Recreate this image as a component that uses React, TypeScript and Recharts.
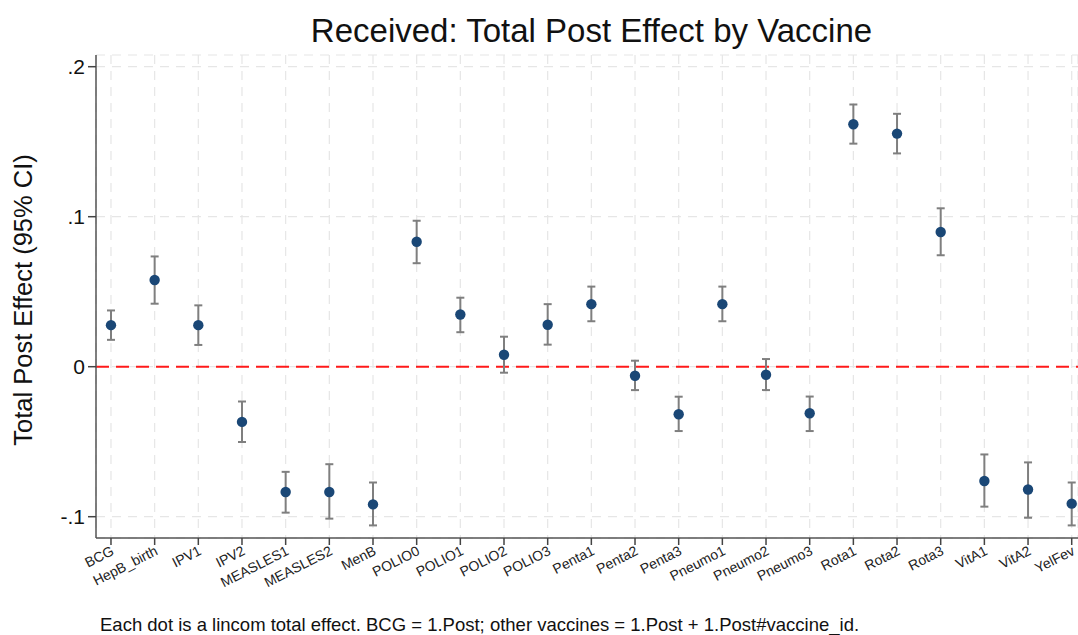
import React from 'react';
import {
  ComposedChart,
  Scatter,
  XAxis,
  YAxis,
  CartesianGrid,
  ReferenceLine,
  ErrorBar,
} from 'recharts';

const vaccines = [
  'BCG', 'HepB_birth', 'IPV1', 'IPV2', 'MEASLES1', 'MEASLES2', 'MenB',
  'POLIO0', 'POLIO1', 'POLIO2', 'POLIO3', 'Penta1', 'Penta2', 'Penta3',
  'Pneumo1', 'Pneumo2', 'Pneumo3', 'Rota1', 'Rota2', 'Rota3', 'VitA1', 'VitA2', 'YelFev',
];
const estimates = [
  0.0277, 0.0578, 0.0277, -0.0368, -0.0835, -0.0835, -0.0918,
  0.0833, 0.0348, 0.008, 0.028, 0.0417, -0.006, -0.0317,
  0.0417, -0.0054, -0.031, 0.1616, 0.1554, 0.0898, -0.0762, -0.0819, -0.0913,
];
const ciLower = [
  0.0179, 0.042, 0.0145, -0.0502, -0.0973, -0.1013, -0.1058,
  0.069, 0.023, -0.004, 0.0147, 0.0303, -0.0156, -0.0429,
  0.0303, -0.0156, -0.0429, 0.1487, 0.1422, 0.0743, -0.0933, -0.1007, -0.1058,
];
const ciUpper = [
  0.0375, 0.0735, 0.0409, -0.0232, -0.0701, -0.065, -0.0772,
  0.0973, 0.046, 0.02, 0.0417, 0.0534, 0.004, -0.02,
  0.0534, 0.0051, -0.0199, 0.1748, 0.1686, 0.1056, -0.0585, -0.0638, -0.0772,
];
const yTicks = [0.2, 0.1, 0, -0.1];
const yTickLabels = ['.2', '.1', '0', '-.1'];

const data = vaccines.map((name, i) => ({
  idx: i,
  name,
  est: estimates[i],
  err: [estimates[i] - ciLower[i], ciUpper[i] - estimates[i]],
}));

const FONT = '"Liberation Sans", Arial, Helvetica, sans-serif';

const XTick = (props: any) => {
  const { x, y, payload } = props;
  const label = vaccines[payload.value] ?? '';
  return (
    <g transform={`translate(${x + 4},${y + 7})`}>
      <text
        x={0}
        y={0}
        transform="rotate(-27)"
        textAnchor="end"
        fontSize={14}
        fontFamily={FONT}
        fill="#222"
      >
        {label}
      </text>
    </g>
  );
};

const YTick = (props: any) => {
  const { x, y, payload } = props;
  const i = yTicks.indexOf(payload.value);
  return (
    <text
      x={x}
      y={y}
      dy={7.5}
      textAnchor="end"
      fontSize={21}
      fontFamily={FONT}
      fill="#111"
    >
      {i >= 0 ? yTickLabels[i] : ''}
    </text>
  );
};

const Dot = (props: any) => {
  const { cx, cy } = props;
  return <circle cx={cx} cy={cy} r={5.2} fill="#1a4776" />;
};

export default function App() {
  return (
    <div
      style={{
        position: 'absolute',
        left: 0,
        top: 0,
        width: 1078,
        height: 635,
        background: '#fff',
        fontFamily: FONT,
        overflow: 'hidden',
      }}
    >
      <div
        style={{
          position: 'absolute',
          left: 0,
          width: 1183,
          top: 12,
          textAlign: 'center',
          fontSize: 33,
          color: '#111',
          whiteSpace: 'nowrap',
        }}
      >
        Received: Total Post Effect by Vaccine
      </div>
      <div
        style={{
          position: 'absolute',
          left: 23,
          top: 300,
          transform: 'translate(-50%, -50%) rotate(-90deg)',
          fontSize: 25.5,
          color: '#111',
          whiteSpace: 'nowrap',
        }}
      >
        Total Post Effect (95% CI)
      </div>
      <div
        style={{
          position: 'absolute',
          left: 100,
          top: 614,
          fontSize: 18.5,
          color: '#111',
          whiteSpace: 'nowrap',
        }}
      >
        Each dot is a lincom total effect. BCG = 1.Post; other vaccines = 1.Post + 1.Post#vaccine_id.
      </div>
      <ComposedChart
        width={1078}
        height={635}
        data={data}
        margin={{ top: 55, right: 0, bottom: 0, left: 0 }}
        style={{ position: 'absolute', left: 0, top: 0 }}
      >
        <CartesianGrid
          stroke="#e6e6e6"
          strokeDasharray="9 7"
          strokeWidth={1.2}
        />
        <XAxis
          type="number"
          dataKey="idx"
          domain={[-0.343, 22.144]}
          ticks={vaccines.map((_, i) => i)}
          interval={0}
          allowDataOverflow
          height={97}
          tick={<XTick />}
          tickSize={7}
          tickLine={{ stroke: '#444', strokeWidth: 1.5 }}
          axisLine={{ stroke: '#555', strokeWidth: 1.5 }}
        />
        <YAxis
          type="number"
          dataKey="est"
          domain={[-0.1142, 0.2078]}
          ticks={yTicks}
          allowDataOverflow
          width={96}
          tick={<YTick />}
          tickSize={8}
          tickMargin={3}
          tickLine={{ stroke: '#444', strokeWidth: 1.5 }}
          axisLine={{ stroke: '#555', strokeWidth: 1.5 }}
        />
        <ReferenceLine
          y={0}
          stroke="#ff1a1a"
          strokeWidth={2}
          strokeDasharray="13 7"
        />
        <Scatter
          dataKey="est"
          shape={<Dot />}
          isAnimationActive={false}
        >
          <ErrorBar
            dataKey="err"
            direction="y"
            width={4}
            stroke="#7f7f7f"
            strokeWidth={2}
          />
        </Scatter>
      </ComposedChart>
    </div>
  );
}
